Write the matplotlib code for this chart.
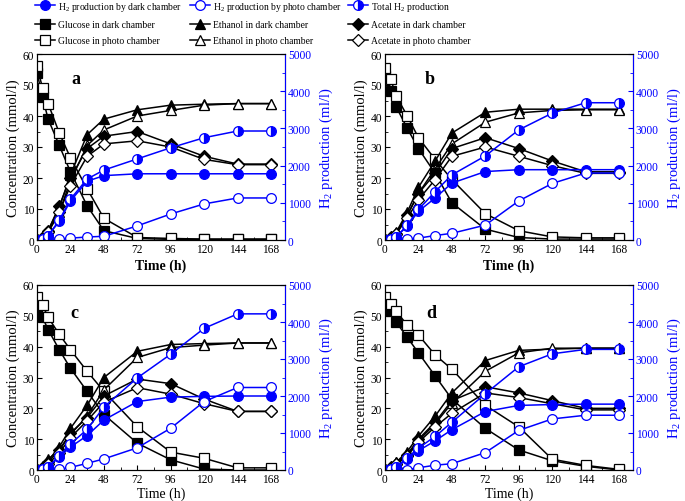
import matplotlib
matplotlib.use("Agg")
import matplotlib.pyplot as plt
from matplotlib.ticker import MultipleLocator

plt.rcParams['font.family'] = ['Liberation Serif', 'DejaVu Serif']
plt.rcParams['mathtext.fontset'] = 'custom'
plt.rcParams['mathtext.rm'] = 'Liberation Serif'

time_h = [0, 4, 8, 16, 24, 36, 48, 72, 96, 120, 144, 168]

# ---- panel a ----
glc_dark_a = [54, 46, 39, 30.5, 22, 11, 3, 0.5, 0.2, 0.2, 0.2, 0.2]
glc_photo_a = [56, 49, 44, 34.5, 26.5, 16.5, 7, 0.8, 0.5, 0.3, 0.3, 0.3]
eth_dark_a = [0, 1, 3, 10.5, 21, 34, 39, 42, 43.5, 43.8, 44, 44]
eth_photo_a = [0, 0.8, 2.5, 9, 19, 30.5, 35.5, 40, 41.8, 43.5, 44, 44]
ace_dark_a = [0, 1, 3, 11, 20, 29.5, 33.5, 35, 31, 27, 24.5, 24.5]
ace_photo_a = [0, 0.8, 2.5, 9, 17.5, 27, 31, 32, 30, 26, 24.3, 24.3]
h2_dark_a = [0, 30, 120, 500, 1050, 1580, 1730, 1780, 1780, 1780, 1780, 1780]
h2_photo_a = [0, 0, 0, 30, 50, 80, 100, 380, 700, 970, 1130, 1130]
h2_total_a = [0, 30, 120, 530, 1100, 1640, 1880, 2180, 2480, 2750, 2930, 2930]

# ---- panel b ----
glc_dark_b = [53, 48, 43, 36, 29.5, 21.5, 12, 3.5, 0.8, 0.3, 0.3, 0.3]
glc_photo_b = [55.5, 52, 46.5, 40, 33, 26, 19.5, 8.5, 3, 1, 0.7, 0.7]
eth_dark_b = [0, 1, 2.5, 9, 17, 25.5, 34.5, 41.2, 42.2, 42.2, 42.2, 42.2]
eth_photo_b = [0, 0.8, 2, 8, 15, 23, 31, 38, 41, 41.8, 42, 42]
ace_dark_b = [0, 1, 2, 8, 15, 21.5, 29.5, 33, 29.5, 25.5, 22, 22]
ace_photo_b = [0, 0.7, 2, 7, 13, 19.5, 27, 30, 27, 24, 21.5, 21.5]
h2_dark_b = [0, 20, 80, 380, 770, 1130, 1530, 1840, 1890, 1890, 1890, 1890]
h2_photo_b = [0, 0, 0, 30, 50, 120, 180, 400, 1050, 1520, 1800, 1800]
h2_total_b = [0, 20, 80, 400, 820, 1300, 1750, 2260, 2960, 3410, 3690, 3690]

# ---- panel c ----
glc_dark_c = [53, 49.5, 45.5, 39, 33, 25.5, 18, 8.7, 3.3, 0.3, 0, 0]
glc_photo_c = [56, 53.5, 49.5, 44, 39, 32, 25.5, 14, 5.8, 3.8, 0.7, 0.7]
eth_dark_c = [0, 1, 3, 7.5, 13.5, 21, 30, 38.5, 40.7, 41, 41.2, 41.2]
eth_photo_c = [0, 1, 3.5, 6.5, 11.5, 17.5, 26, 36.5, 39.7, 40.5, 41.2, 41.2]
ace_dark_c = [0, 1, 2.5, 6.5, 12, 17, 24, 29.5, 28, 23, 19, 19]
ace_photo_c = [0, 0.8, 2, 5.5, 10.5, 16, 22, 26.7, 24.6, 21.5, 19, 19]
h2_dark_c = [0, 20, 80, 350, 620, 930, 1350, 1850, 1970, 1990, 2000, 2000]
h2_photo_c = [0, 0, 0, 20, 70, 180, 300, 600, 1130, 1850, 2230, 2230]
h2_total_c = [0, 20, 80, 380, 700, 1100, 1700, 2490, 3130, 3830, 4220, 4220]

# ---- panel d ----
glc_dark_d = [54, 51.5, 48, 43, 38, 30.5, 23, 13.5, 6.5, 3, 1.2, 0]
glc_photo_d = [56, 54, 51.5, 47, 43.8, 37.3, 32.7, 21, 14, 3.5, 1.5, 0.2]
eth_dark_d = [0, 1, 2.5, 6, 11, 17.5, 25, 35.5, 38.8, 39.2, 39.5, 39.5]
eth_photo_d = [0, 0.8, 2.5, 5, 9.5, 15, 21.7, 32, 38, 39.5, 39.5, 39.5]
ace_dark_d = [0, 1, 2, 5, 10, 15.5, 22.5, 27, 25, 22.5, 20, 20]
ace_photo_d = [0, 0.8, 1.8, 4.5, 9, 14, 18.4, 25, 23.5, 21.5, 19.5, 19.5]
h2_dark_d = [0, 20, 70, 300, 520, 790, 1090, 1580, 1745, 1770, 1780, 1780]
h2_photo_d = [0, 0, 0, 10, 60, 130, 170, 470, 1070, 1380, 1480, 1480]
h2_total_d = [0, 20, 80, 330, 590, 910, 1290, 2060, 2790, 3140, 3260, 3260]

panel_letters = ['a', 'b', 'c', 'd']
x_ticks = [0, 24, 48, 72, 96, 120, 144, 168]

panels = {
    'a': (glc_dark_a, glc_photo_a, eth_dark_a, eth_photo_a, ace_dark_a, ace_photo_a, h2_dark_a, h2_photo_a, h2_total_a),
    'b': (glc_dark_b, glc_photo_b, eth_dark_b, eth_photo_b, ace_dark_b, ace_photo_b, h2_dark_b, h2_photo_b, h2_total_b),
    'c': (glc_dark_c, glc_photo_c, eth_dark_c, eth_photo_c, ace_dark_c, ace_photo_c, h2_dark_c, h2_photo_c, h2_total_c),
    'd': (glc_dark_d, glc_photo_d, eth_dark_d, eth_photo_d, ace_dark_d, ace_photo_d, h2_dark_d, h2_photo_d, h2_total_d),
}

BLUE = '#0000ff'
MS = 7
LW = 1.1

fig = plt.figure(figsize=(6.85, 5.02), dpi=100)
W, H = 685.0, 502.0
boxes = {
    'a': (37, 55, 248, 186),
    'b': (385, 55, 248, 186),
    'c': (37, 286, 248, 185),
    'd': (385, 286, 248, 185),
}
letter_pos = {'a': (28, 52), 'b': (32, 52), 'c': (27, 51), 'd': (33, 51)}

handles = {}
for key in panel_letters:
    x0, y0, w, h = boxes[key]
    ax = fig.add_axes([x0 / W, 1 - (y0 + h) / H, w / W, h / H])
    gd, gp, ed, ep, ad, ap, hd, hp, ht = panels[key]
    k = dict(color='black', lw=LW, ms=MS, mew=0.9)
    l_gd, = ax.plot(time_h, gd, marker='s', mfc='black', mec='black', **k)
    l_gp, = ax.plot(time_h, gp, marker='s', mfc='white', mec='black', **k)
    l_ed, = ax.plot(time_h, ed, marker='^', mfc='black', mec='black', **k)
    l_ep, = ax.plot(time_h, ep, marker='^', mfc='white', mec='black', **k)
    l_ad, = ax.plot(time_h, ad, marker='D', mfc='black', mec='black', **{**k, 'ms': 6.5})
    l_ap, = ax.plot(time_h, ap, marker='D', mfc='white', mec='black', **{**k, 'ms': 6.5})
    ax.set_xlim(0, 178)
    ax.set_ylim(0, 60)
    ax.set_xticks(x_ticks)
    ax.xaxis.set_minor_locator(MultipleLocator(12))
    ax.yaxis.set_major_locator(MultipleLocator(10))
    ax.yaxis.set_minor_locator(MultipleLocator(5))
    ax.tick_params(which='both', direction='in', top=False, right=False, labelsize=8.3, pad=2)
    ax.tick_params(which='major', length=3.5)
    ax.tick_params(which='minor', length=2)
    ax.set_ylabel('Concentration (mmol/l)', fontsize=10.5, labelpad=2)
    if key in ('a', 'b'):
        ax.set_xlabel('Time (h)', fontsize=10, fontweight='bold', labelpad=3)
    else:
        ax.set_xlabel('Time (h)', fontsize=10, labelpad=1)
    ax.text(letter_pos[key][0], letter_pos[key][1], key, fontsize=13, fontweight='bold',
            ha='center', va='center')

    ax2 = ax.twinx()
    kb = dict(color=BLUE, lw=LW, ms=MS, mew=0.9, mec=BLUE, marker='o')
    l_hd, = ax2.plot(time_h, hd, mfc=BLUE, **kb)
    l_hp, = ax2.plot(time_h, hp, mfc='white', **kb)
    l_ht, = ax2.plot(time_h, ht, mfc=BLUE, fillstyle='right', markerfacecoloralt='white', **kb)
    ax2.set_ylim(0, 5000)
    ax2.yaxis.set_major_locator(MultipleLocator(1000))
    ax2.yaxis.set_minor_locator(MultipleLocator(500))
    ax2.tick_params(which='both', direction='in', colors=BLUE, labelsize=8.3, pad=2)
    ax2.tick_params(which='major', length=3.5)
    ax2.tick_params(which='minor', length=2)
    ax2.spines['right'].set_color(BLUE)
    ax2.set_ylabel('H$_2$ production (ml/l)', fontsize=10.5, color=BLUE, labelpad=5)
    handles = dict(hd=l_hd, hp=l_hp, ht=l_ht, gd=l_gd, gp=l_gp, ed=l_ed, ep=l_ep, ad=l_ad, ap=l_ap)

legend_items = [
    ('hd', 'H$_2$ production by dark chamber', 35, 7),
    ('hp', 'H$_2$ production by photo chamber', 190, 7),
    ('ht', 'Total H$_2$ production', 348, 7),
    ('gd', 'Glucose in dark chamber', 35, 26),
    ('ed', 'Ethanol in dark chamber', 190, 26),
    ('ad', 'Acetate in dark chamber', 348, 26),
    ('gp', 'Glucose in photo chamber', 35, 42),
    ('ep', 'Ethanol in photo chamber', 190, 42),
    ('ap', 'Acetate in photo chamber', 348, 42),
]
for hk, label, px, py in legend_items:
    leg = fig.legend([handles[hk]], [label], loc='center left',
                     bbox_to_anchor=(px / W, 1 - py / H), frameon=False,
                     fontsize=6.9, handlelength=2.1, handletextpad=0.3,
                     borderpad=0, borderaxespad=0)

fig.savefig('out.png', dpi=100)
